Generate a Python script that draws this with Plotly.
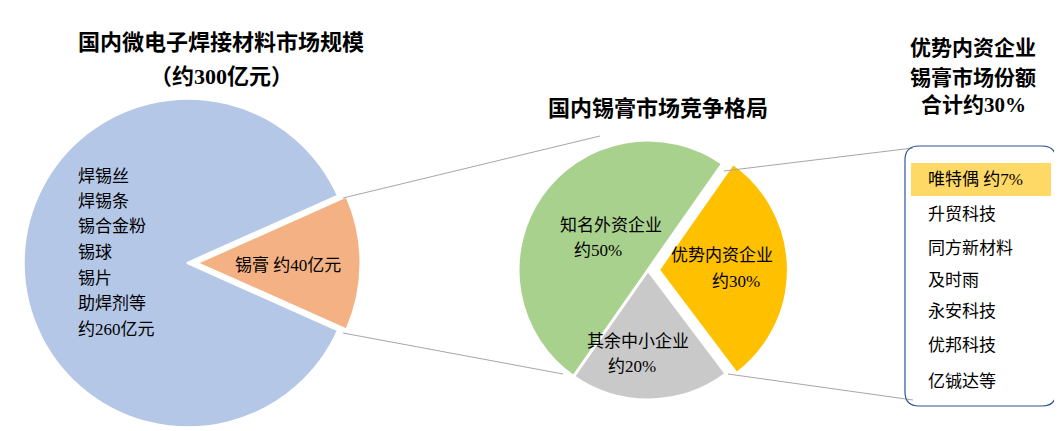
import plotly.graph_objects as go

W, H = 1062, 431
left_labels = ["锡膏", "其他"]
left_values = [40, 260]
left_colors = ["#F4B183", "#B4C7E7"]
mid_labels = ["优势内资企业", "其余中小企业", "知名外资企业"]
mid_values = [30, 20, 50]
mid_colors = ["#FFC000", "#C9C9C9", "#A9D18E"]
list_items = ["唯特偶 约7%", "升贸科技", "同方新材料", "及时雨", "永安科技", "优邦科技", "亿铖达等"]

FONT = "Liberation Serif, Noto Sans CJK SC"
def px(x): return x / W
def py(y): return 1 - y / H

fig = go.Figure()
fig.add_trace(go.Pie(labels=left_labels, values=left_values, sort=False, direction="clockwise",
                     rotation=66, pull=[0.05, 0], textinfo="none", hoverinfo="label+value",
                     marker=dict(colors=left_colors, line=dict(color="white", width=3)),
                     domain=dict(x=[px(7), px(353)], y=[py(431-3) , py(431-349)][::-1] if False else [3/H, 349/H]),
                     showlegend=False))
fig.add_trace(go.Pie(labels=mid_labels, values=mid_values, sort=False, direction="clockwise",
                     rotation=35, pull=[0.08, 0, 0], textinfo="none", hoverinfo="label+percent",
                     marker=dict(colors=mid_colors, line=dict(color="white", width=3)),
                     domain=dict(x=[px(499.6), px(780.4)], y=[28.6/H, 309.4/H]),
                     showlegend=False))

ann = []
def A(x, y, t, size=17, bold=False, xanchor="center"):
    if bold: t = "<b>" + t + "</b>"
    ann.append(dict(x=px(x), y=py(y), xref="paper", yref="paper", text=t, showarrow=False,
                    xanchor=xanchor, yanchor="middle", font=dict(family=FONT, size=size, color="black")))

A(213, 35, "国内微电子焊接材料市场规模", 22, True)
A(213, 68, "（约300亿元）", 22, True)
A(650, 100, "国内锡膏市场竞争格局", 22, True)
A(965, 40, "优势内资企业", 21, True)
A(965, 70, "锡膏市场份额", 21, True)
A(965, 97, "合计约30%", 21, True)
for i, t in enumerate(["焊锡丝", "焊锡条", "锡合金粉", "锡球", "锡片", "助焊剂等", "约260亿元"]):
    A(68, 168 + i * 25.5, t, 17, xanchor="left")
A(280, 257, "锡膏 约40亿元", 17)
A(603, 217, "知名外资企业", 17)
A(590, 243, "约50%", 17)
A(714, 247, "优势内资企业", 17)
A(728, 273, "约30%", 17)
A(630, 333, "其余中小企业", 17)
A(624, 358, "约20%", 17)
ys = [172, 206, 240, 272, 303, 337, 373]
for t, y in zip(list_items, ys):
    A(918, y, t, 17, xanchor="left")

shapes = []
def L(x0, y0, x1, y1):
    shapes.append(dict(type="line", xref="paper", yref="paper", x0=px(x0), y0=py(y0), x1=px(x1), y1=py(y1),
                       line=dict(color="#A6A6A6", width=1)))
L(335, 190, 592, 128)
L(335, 325, 555, 366)
L(716, 163, 905, 140)
L(720, 366, 905, 392)
shapes.append(dict(type="rect", xref="paper", yref="paper", x0=px(903), x1=px(1043), y0=py(188), y1=py(155),
                   fillcolor="#FFD966", line=dict(width=0), layer="below"))
r = 14; x0, x1, y0, y1 = 897, 1048, 138, 398
path = (f"M {x0+r},{y0} L {x1-r},{y0} Q {x1},{y0} {x1},{y0+r} L {x1},{y1-r} Q {x1},{y1} {x1-r},{y1} "
        f"L {x0+r},{y1} Q {x0},{y1} {x0},{y1-r} L {x0},{y0+r} Q {x0},{y0} {x0+r},{y0} Z")
# convert pixel path to paper coords
import re
def conv(m):
    x, y = float(m.group(1)), float(m.group(2))
    return f"{px(x):.5f},{py(y):.5f}"
path = re.sub(r"([\d.]+),([\d.]+)", conv, path)
shapes.append(dict(type="path", xref="paper", yref="paper", path=path, line=dict(color="#2F5597", width=1.2)))

fig.update_layout(width=W, height=H, margin=dict(l=0, r=0, t=0, b=0), paper_bgcolor="white",
                  plot_bgcolor="white", annotations=ann, shapes=shapes)
fig.write_html("out.html")
